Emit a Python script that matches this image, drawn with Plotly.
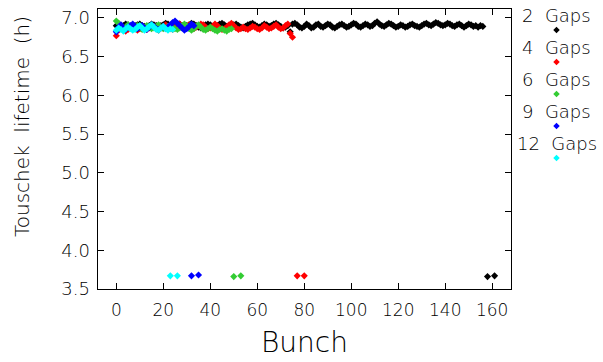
import plotly.graph_objects as go

# ---------------- data ----------------
series_names = ["2  Gaps", "4  Gaps", "6  Gaps", "9  Gaps", "12  Gaps"]
series_colors = ["#000000", "#ff0000", "#33cc33", "#0000ff", "#00ffff"]

gap2_y = [
    6.90, 6.91, 6.89, 6.90, 6.92, 6.91, 6.89, 6.88, 6.90, 6.91,
    6.92, 6.90, 6.89, 6.88, 6.90, 6.92, 6.91, 6.90, 6.89, 6.90,
    6.91, 6.93, 6.92, 6.90, 6.88, 6.89, 6.91, 6.92, 6.90, 6.89,
    6.90, 6.91, 6.93, 6.92, 6.90, 6.88, 6.87, 6.89, 6.91, 6.92,
    6.91, 6.89, 6.88, 6.90, 6.92, 6.93, 6.91, 6.89, 6.88, 6.90,
    6.91, 6.92, 6.90, 6.88, 6.87, 6.89, 6.91, 6.92, 6.93, 6.91,
    6.89, 6.88, 6.90, 6.92, 6.91, 6.89, 6.90, 6.92, 6.93, 6.91,
    6.89, 6.87, 6.88, 6.90, 6.82, 6.92, 6.93, 6.91, 6.88, 6.87,
    6.89, 6.92, 6.90, 6.87, 6.88, 6.91, 6.92, 6.89, 6.88, 6.90,
    6.92, 6.91, 6.88, 6.87, 6.89, 6.91, 6.92, 6.90, 6.88, 6.89,
    6.91, 6.93, 6.92, 6.89, 6.88, 6.90, 6.92, 6.91, 6.89, 6.90,
    6.93, 6.95, 6.92, 6.90, 6.89, 6.91, 6.93, 6.92, 6.90, 6.88,
    6.89, 6.91, 6.90, 6.88, 6.89, 6.91, 6.92, 6.90, 6.89, 6.88,
    6.90, 6.92, 6.93, 6.91, 6.90, 6.92, 6.94, 6.93, 6.91, 6.90,
    6.91, 6.93, 6.92, 6.90, 6.89, 6.91, 6.92, 6.90, 6.88, 6.90,
    6.92, 6.91, 6.89, 6.90, 6.88, 6.90, 6.89,
]
gap4_y = [
    6.77, 6.84, 6.88, 6.86, 6.83, 6.85, 6.88, 6.90, 6.87, 6.84,
    6.86, 6.89, 6.88, 6.85, 6.87, 6.90, 6.89, 6.86, 6.84, 6.87,
    6.89, 6.91, 6.88, 6.86, 6.85, 6.88, 6.90, 6.92, 6.89, 6.87,
    6.88, 6.91, 6.89, 6.86, 6.88, 6.90, 6.92, 6.91, 6.88, 6.86,
    6.87, 6.89, 6.92, 6.90, 6.87, 6.85, 6.86, 6.88, 6.91, 6.93,
    6.90, 6.87, 6.85, 6.86, 6.88, 6.86, 6.85, 6.87, 6.89, 6.88,
    6.86, 6.85, 6.87, 6.90, 6.88, 6.86, 6.87, 6.89, 6.91, 6.88,
    6.86, 6.87, 6.90, 6.92, 6.80, 6.75,
]
gap6_y = [
    6.96, 6.93, 6.90, 6.87, 6.88, 6.91, 6.89, 6.86, 6.88, 6.90,
    6.87, 6.85, 6.88, 6.90, 6.88, 6.86, 6.87, 6.89, 6.91, 6.88,
    6.86, 6.87, 6.89, 6.90, 6.88, 6.86, 6.85, 6.87, 6.90, 6.92,
    6.89, 6.86, 6.84, 6.86, 6.89, 6.91, 6.88, 6.85, 6.84, 6.86,
    6.88, 6.86, 6.84, 6.83, 6.85, 6.86, 6.84, 6.83, 6.85, 6.86,
]
gap9_y = [
    6.82, 6.88, 6.91, 6.87, 6.85, 6.88, 6.90, 6.92, 6.89, 6.86,
    6.88, 6.90, 6.87, 6.85, 6.88, 6.91, 6.89, 6.86, 6.85, 6.87,
    6.89, 6.86, 6.88, 6.91, 6.94, 6.96, 6.93, 6.90, 6.87, 6.84,
    6.86, 6.89, 6.92, 6.90,
]
gap12_y = [
    6.84, 6.87, 6.85, 6.83, 6.86, 6.88, 6.86, 6.84, 6.85, 6.88,
    6.90, 6.87, 6.84, 6.86, 6.89, 6.91, 6.88, 6.85, 6.84, 6.87,
    6.89, 6.86, 6.84, 6.86, 6.85,
]
# low-lifetime bunches (bunch number, lifetime)
gap2_low_x, gap2_low_y = [158, 161], [3.66, 3.67]
gap4_low_x, gap4_low_y = [77, 80], [3.67, 3.67]
gap6_low_x, gap6_low_y = [50, 53], [3.66, 3.67]
gap9_low_x, gap9_low_y = [32, 35], [3.67, 3.68]
gap12_low_x, gap12_low_y = [23, 26], [3.67, 3.67]

x_ticks = [0, 20, 40, 60, 80, 100, 120, 140, 160]
y_ticks = [3.5, 4.0, 4.5, 5.0, 5.5, 6.0, 6.5, 7.0]

main_y = [gap2_y, gap4_y, gap6_y, gap9_y, gap12_y]
low_x = [gap2_low_x, gap4_low_x, gap6_low_x, gap9_low_x, gap12_low_x]
low_y = [gap2_low_y, gap4_low_y, gap6_low_y, gap9_low_y, gap12_low_y]

# ---------------- figure ----------------
W, H = 603, 362
L, R, T, B = 97.5, 511, 8, 297
FONT = "DejaVu Sans"
WT = 200

fig = go.Figure()
for name, col, ys, lx, ly in zip(series_names, series_colors, main_y, low_x, low_y):
    xs = list(range(len(ys))) + lx
    fig.add_trace(go.Scatter(
        x=xs, y=ys + ly, mode="markers", name=name,
        marker=dict(symbol="diamond", size=5.5, color=col, line=dict(width=0)),
        xaxis="x", yaxis="y", showlegend=False, cliponaxis=False,
    ))

# legend (text above a diamond sample), drawn on an overlay pixel axis
leg_x = 556.5
leg_text_y = [15, 48, 81, 114, 147]
leg_mark_dy = 15
fig.add_trace(go.Scatter(
    x=[leg_x] * len(series_names), y=[v + leg_mark_dy for v in leg_text_y],
    mode="markers", marker=dict(symbol="diamond", size=5, color=series_colors),
    xaxis="x2", yaxis="y2", showlegend=False, hoverinfo="skip",
))
annotations = []
for name, ty in zip(series_names, leg_text_y):
    annotations.append(dict(x=leg_x, y=ty, xref="x2", yref="y2", text=name,
                            showarrow=False, xanchor="center", yanchor="middle",
                            font=dict(family=FONT, size=18, color="black", weight=WT)))
# y-axis title
annotations.append(dict(x=22, y=130, xref="x2", yref="y2", text="Touschek  lifetime  (h)",
                        showarrow=False, textangle=-90, xanchor="center", yanchor="middle",
                        font=dict(family=FONT, size=20, color="black", weight=WT)))
# x-axis title
annotations.append(dict(x=304, y=352, xref="x2", yref="y2", text="Bunch",
                        showarrow=False, xanchor="center", yanchor="middle",
                        font=dict(family=FONT, size=28, color="black", weight=WT)))

axis_common = dict(showline=True, linecolor="black", linewidth=1, mirror="ticks",
                   ticks="inside", ticklen=6, tickwidth=1, tickcolor="black",
                   showgrid=False, zeroline=False)

fig.update_layout(
    width=W, height=H, autosize=False,
    margin=dict(l=0, r=0, t=0, b=0, pad=0),
    paper_bgcolor="white", plot_bgcolor="rgba(0,0,0,0)",
    font=dict(family=FONT, color="black", weight=WT),
    xaxis=dict(domain=[L / W, R / W], range=[-8, 168], tickvals=x_ticks,
               tickfont=dict(family=FONT, size=17, weight=WT), ticklabelstandoff=6,
               anchor="y", **axis_common),
    yaxis=dict(domain=[1 - B / H, 1 - T / H], range=[3.5, 7.118], tickvals=y_ticks,
               tickformat=".1f", tickfont=dict(family=FONT, size=18, weight=WT), ticklabelstandoff=3,
               anchor="x", **axis_common),
    xaxis2=dict(domain=[0, 1], range=[0, W], visible=False, anchor="y2", fixedrange=True),
    yaxis2=dict(domain=[0, 1], range=[H, 0], visible=False, anchor="x2", fixedrange=True),
    annotations=annotations,
    showlegend=False,
)

fig.write_html("out.html")
